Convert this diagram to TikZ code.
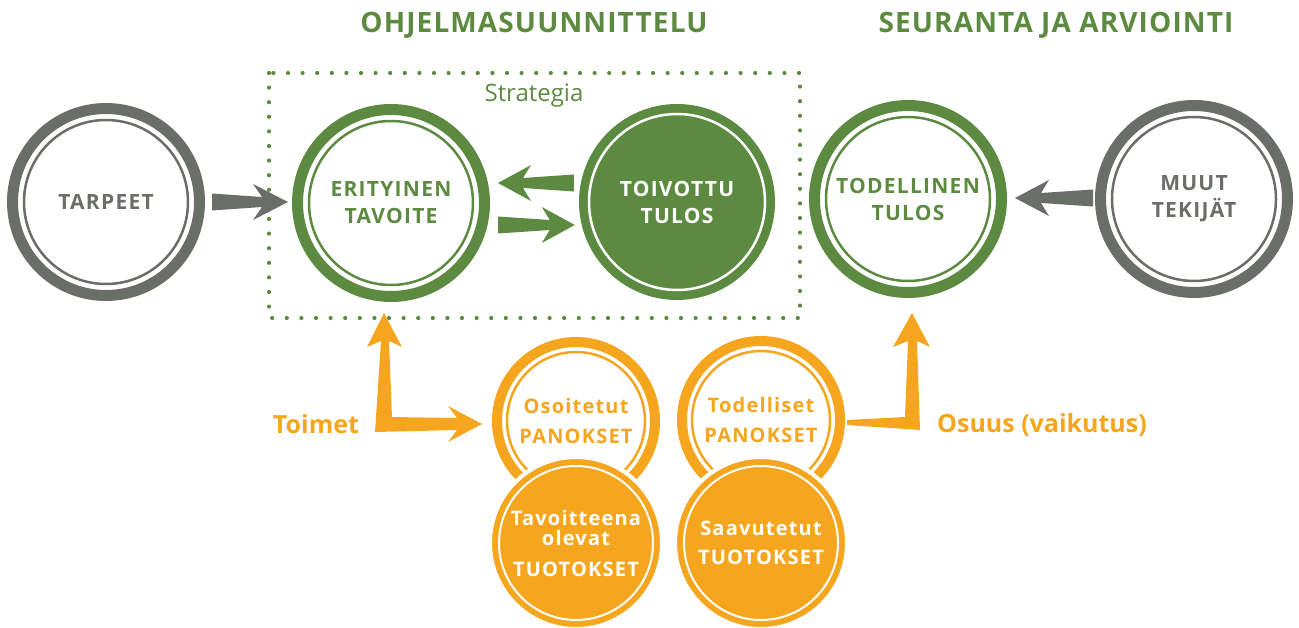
\documentclass[tikz,border=0pt]{standalone}
\usepackage{fontspec}
\setmainfont{Open Sans}
\newfontfamily\spaced[LetterSpace=6]{Open Sans}
\newfontfamily\titlefam[LetterSpace=4]{Open Sans}
\usetikzlibrary{calc}
\definecolor{cgray}{RGB}{105,110,104}
\definecolor{cgreen}{RGB}{92,138,64}
\definecolor{corange}{RGB}{246,166,30}
% fat arrow: colour, start, end, tail half width, neck half width, barb distance, notch distance, head half width
\newcommand\fatarr[8]{%
  \path ($(#3)!#6!(#2)$) coordinate (hb) ($(#3)!#7!(#2)$) coordinate (hn);
  \fill[#1] ($(#2)!#4!90:(#3)$) -- ($(hn)!#5!-90:(#2)$) -- ($(hb)!#8!-90:(#2)$) -- (#3)
    -- ($(hb)!#8!90:(#2)$) -- ($(hn)!#5!90:(#2)$) -- ($(#2)!#4!-90:(#3)$) -- cycle;}
\tikzset{
  bigtext/.style={align=center, font=\spaced\bfseries\fontsize{21}{27}\selectfont},
  ring/.style={circle, draw=#1, line width=11pt, minimum size=187pt, inner sep=0pt, text=#1, bigtext},
  solidring/.style={circle, fill=#1, draw=none, minimum size=196pt, inner sep=0pt, text=white, bigtext},
  smalltext/.style={align=center, font=\spaced\bfseries\fontsize{20}{30}\selectfont},
  oring/.style={circle, draw=corange, line width=10pt, minimum size=158pt, inner sep=0pt, text=corange, smalltext},
  odisk/.style={circle, draw=white, line width=4pt, fill=corange, minimum size=172pt, inner sep=0pt, text=white, smalltext},
  title/.style={anchor=base, text=cgreen, font=\titlefam\bfseries\fontsize{28}{30}\selectfont},
  olabel/.style={anchor=base, text=corange, font=\bfseries\fontsize{25}{28}\selectfont},
  dotline/.style={cgreen, line width=4.2pt, line cap=round, dash pattern=on 0pt off 14.6pt},
}
\begin{document}
\begin{tikzpicture}[x=1pt,y=-1pt]
\useasboundingbox (0,0) rectangle (1299,628);

% titles
\node[title] (t1) at (534,33) {OHJELMASUUNNITTELU};
\node[title] (t2) at (1056,33) {SEURANTA JA ARVIOINTI};

% strategy box
\draw[dotline] (269,73) rectangle (800,318);
\node[anchor=base, text=cgreen, font=\fontsize{24}{26}\selectfont] (strat) at (534,102) {Strategia};

% main circles
\node[ring=cgray] (tar) at (106,202) {TARPEET};
\draw[cgray, line width=2.5pt] (tar.center) circle (82);
\node[ring=cgreen] (eri) at (391,203) {ERITYINEN\\TAVOITE};
\draw[cgreen, line width=2.5pt] (eri.center) circle (82);
\node[solidring=cgreen] (toi) at (677,202) {TOIVOTTU\\TULOS};
\draw[white, line width=2.5pt] (toi.center) circle (88);
\node[ring=cgreen] (todt) at (908,199) {TODELLINEN\\TULOS};
\draw[cgreen, line width=2.5pt] (todt.center) circle (82);
\node[ring=cgray] (muu) at (1194,199) {MUUT\\TEKIJÄT};
\draw[cgray, line width=2.5pt] (muu.center) circle (82);

% arrows between main circles
\coordinate (g1s) at ($(tar.east)+(7,0)$);
\coordinate (g1e) at ($(eri.west)+(-4,-1)$);
\fatarr{cgray}{g1s}{g1e}{8.5pt}{5pt}{35pt}{26pt}{18pt}
\coordinate (a1s) at ($(toi.west)+(-5,-19)$);
\coordinate (a1e) at ($(eri.east)+(8,-20)$);
\fatarr{cgreen}{a1s}{a1e}{8.5pt}{5pt}{33pt}{25pt}{18pt}
\coordinate (a2s) at ($(eri.east)+(8,22)$);
\coordinate (a2e) at ($(toi.west)+(-4,23)$);
\fatarr{cgreen}{a2s}{a2e}{8.5pt}{5pt}{33pt}{25pt}{18pt}
\coordinate (m1s) at ($(muu.west)+(-2,-1)$);
\coordinate (m1e) at ($(todt.east)+(8,-1)$);
\fatarr{cgray}{m1s}{m1e}{8.5pt}{5pt}{34pt}{26pt}{18pt}

% orange circles
\node[oring] (osoit) at (576,421) {Osoitetut\\PANOKSET};
\draw[corange, line width=2.5pt] (osoit.center) circle (69);
\node[oring] (todl) at (761,420) {Todelliset\\PANOKSET};
\draw[corange, line width=2.5pt] (todl.center) circle (69);
\node[odisk, font=\spaced\bfseries\fontsize{20}{20}\selectfont] (tavo) at (576,543) {Tavoitteena\\olevat\\[11pt]TUOTOKSET};
\draw[white, line width=2pt] (tavo.center) circle (77);
\node[odisk, font=\spaced\bfseries\fontsize{20}{29}\selectfont] (saav) at (761,543) {Saavutetut\\TUOTOKSET};
\draw[white, line width=2pt] (saav.center) circle (77);

% orange L arrows
\fill[corange] (375,432) -- (381,341) -- (367,347) -- (384,313) -- (402,347) -- (389,341)
  -- (392,417) -- (457,418) -- (448,406) -- (482,424) -- (448,442) -- (457,430) -- cycle;
\fill[corange] (847,420) -- (905,417) -- (908,341) -- (893,347) -- (912,313) -- (930,347)
  -- (917,341) -- (920,430) -- (847,425) -- cycle;

\node[olabel] (toimet) at (316,433) {Toimet};
\node[olabel] (osuus) at (1042,432) {Osuus (vaikutus)};
\end{tikzpicture}
\end{document}
